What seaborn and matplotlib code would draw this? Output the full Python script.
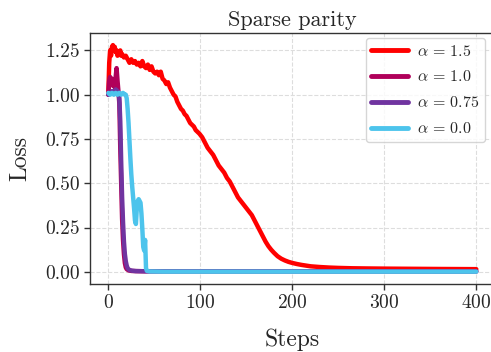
import numpy as np
import pandas as pd
import matplotlib
matplotlib.use("Agg")
import matplotlib.pyplot as plt
import seaborn as sns

# ---- data ----
labels = [r"$\alpha\,=\,1.5$", r"$\alpha\,=\,1.0$", r"$\alpha\,=\,0.75$", r"$\alpha\,=\,0.0$"]
colors = ["#ff0000", "#b0005a", "#7034a0", "#4dc4ec"]

steps_a15 = [0, 1, 2, 3, 4, 5, 6, 7, 8, 9, 10, 11, 12, 13, 14, 15, 17, 19, 21, 23, 25, 27, 29,
             31, 33, 35, 37, 39, 41, 43, 45, 47, 49, 51, 53, 55, 57, 59, 61, 63, 65, 67, 69,
             71, 73, 75, 77, 79, 81, 83, 85, 87, 89, 91, 93, 95, 97, 99, 102, 105, 108, 111,
             114, 117, 120, 123, 126, 129, 132, 135, 138, 141, 144, 147, 150, 153, 156, 159,
             162, 165, 168, 171, 174, 177, 180, 184, 188, 192, 196, 200, 205, 210, 215, 220,
             230, 240, 250, 265, 280, 300, 330, 360, 400]
loss_a15 = [1.00, 1.18, 1.25, 1.22, 1.27, 1.28, 1.25, 1.27, 1.24, 1.25, 1.22, 1.24, 1.23, 1.25,
            1.22, 1.23, 1.21, 1.22, 1.20, 1.18, 1.20, 1.18, 1.19, 1.17, 1.18, 1.16, 1.19, 1.16,
            1.15, 1.17, 1.14, 1.16, 1.13, 1.12, 1.13, 1.11, 1.13, 1.09, 1.08, 1.06, 1.07, 1.04,
            1.02, 1.00, 0.99, 0.96, 0.94, 0.92, 0.91, 0.89, 0.88, 0.86, 0.84, 0.83, 0.82, 0.80,
            0.79, 0.78, 0.76, 0.73, 0.70, 0.68, 0.66, 0.63, 0.60, 0.58, 0.56, 0.53, 0.51, 0.48,
            0.45, 0.42, 0.40, 0.38, 0.36, 0.34, 0.32, 0.29, 0.26, 0.23, 0.20, 0.17, 0.145, 0.125,
            0.108, 0.088, 0.074, 0.064, 0.056, 0.050, 0.044, 0.039, 0.035, 0.031, 0.027, 0.024,
            0.022, 0.020, 0.019, 0.018, 0.017, 0.016, 0.015]

steps_a10 = [0, 1, 2, 3, 4, 5, 6, 7, 8, 9, 10, 11, 12, 13, 14, 15, 16, 17, 18, 19, 20, 22, 25,
             30, 40, 60, 400]
loss_a10 = [1.00, 1.08, 1.10, 1.06, 1.09, 1.05, 1.07, 1.04, 1.10, 1.15, 1.08, 1.02, 0.95, 0.70,
            0.50, 0.30, 0.18, 0.10, 0.05, 0.025, 0.015, 0.008, 0.005, 0.004, 0.003, 0.003, 0.003]

steps_a075 = [0, 2, 4, 6, 8, 10, 11, 12, 13, 14, 15, 16, 17, 18, 19, 20, 21, 23, 26, 30, 40, 400]
loss_a075 = [1.00, 1.01, 1.02, 1.01, 1.03, 1.02, 1.01, 0.98, 0.85, 0.62, 0.42, 0.28, 0.17,
             0.10, 0.06, 0.035, 0.02, 0.01, 0.006, 0.004, 0.003, 0.002]

steps_a00 = [0, 2, 4, 6, 8, 10, 12, 14, 16, 18, 19, 20, 21, 22, 23, 24, 25, 26, 27, 28, 29, 30,
             31, 32, 33, 34, 35, 36, 37, 38, 39, 40, 40.5, 41, 42, 45, 60, 400]
loss_a00 = [1.01, 1.00, 1.01, 1.00, 1.01, 1.00, 1.01, 1.00, 1.01, 1.00, 1.00, 0.98, 0.92, 0.84,
            0.74, 0.64, 0.55, 0.48, 0.42, 0.36, 0.29, 0.27, 0.36, 0.40, 0.41, 0.40, 0.39, 0.33,
            0.24, 0.14, 0.12, 0.18, 0.10, 0.02, 0.005, 0.002, 0.001, 0.001]

xticks = [0, 100, 200, 300, 400]
yticks = [0.00, 0.25, 0.50, 0.75, 1.00, 1.25]

frames = []
for lab, s, l in zip(labels,
                     [steps_a15, steps_a10, steps_a075, steps_a00],
                     [loss_a15, loss_a10, loss_a075, loss_a00]):
    frames.append(pd.DataFrame({"Steps": s, "Loss": l, "alpha": lab}))
df = pd.concat(frames, ignore_index=True)

# ---- style ----
sns.set_style("ticks")
plt.rcParams["font.family"] = "serif"
plt.rcParams["font.serif"] = ["cmr10", "DejaVu Serif"]
plt.rcParams["mathtext.fontset"] = "cm"
plt.rcParams["axes.formatter.use_mathtext"] = True
plt.rcParams["axes.unicode_minus"] = False

fig = plt.figure(figsize=(4.91, 3.52), dpi=100)
ax = fig.add_axes([89.9 / 491, 68.5 / 352, (494.7 - 89.9) / 491, (283.5 - 32.7) / 352])

sns.lineplot(data=df, x="Steps", y="Loss", hue="alpha", hue_order=labels,
             palette=colors, estimator=None, sort=False, linewidth=3.2, ax=ax)

ax.set_xlim(-20, 420)
ax.set_ylim(-0.066, 1.35)
ax.set_xticks(xticks)
ax.set_yticks(yticks)
ax.set_yticklabels([f"{v:.2f}" for v in yticks])
ax.grid(True, linestyle="--", color="#dddddd", linewidth=0.8)
ax.set_axisbelow(True)
for side in ["left", "bottom", "top", "right"]:
    ax.spines[side].set_color("#333333")
    ax.spines[side].set_linewidth(1.0)
ax.tick_params(axis="both", labelsize=14, length=4, width=1.0, color="#333333")

ax.set_title("Sparse parity", fontsize=16, pad=5)
ax.set_xlabel("Steps", fontsize=17, labelpad=12)
ax.set_ylabel("Loss", fontsize=17, labelpad=10)

leg = ax.legend(loc="upper right", bbox_to_anchor=(0.976, 0.979), borderaxespad=0.0,
                fontsize=11.5, handlelength=2.3, frameon=True, fancybox=True,
                borderpad=0.35, labelspacing=0.68, handletextpad=0.55)
leg.get_frame().set_edgecolor("#cccccc")
for line in leg.get_lines():
    line.set_linewidth(3.5)

fig.savefig("out.png", dpi=100)
